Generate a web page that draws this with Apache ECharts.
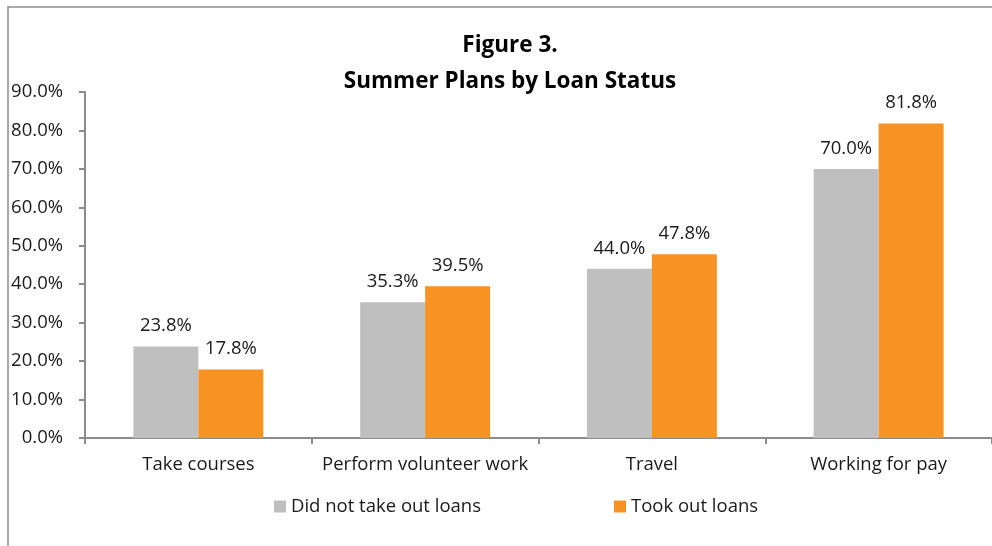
<!DOCTYPE html>
<html>
<head>
<meta charset="utf-8">
<script src="https://cdn.jsdelivr.net/npm/echarts@6/dist/echarts.min.js"></script>
<style>
  html, body { margin: 0; padding: 0; background: #fff; }
  #chart { width: 992px; height: 546px; }
</style>
</head>
<body>
<div id="chart"></div>
<script>
// Summer plans of students, split by whether they took out loans (percent)
const categories = ['Take courses', 'Perform volunteer work', 'Travel', 'Working for pay'];
const noLoans = [23.8, 35.3, 44.0, 70.0];
const tookLoans = [17.8, 39.5, 47.8, 81.8];
const seriesNames = ['Did not take out loans', 'Took out loans'];

const font = '"Open Sans", sans-serif';
const fontSize = 18.5;
const axisGrey = '#8c8c8c';

const chart = echarts.init(document.getElementById('chart'));

const labelStyle = {
  show: true,
  position: 'top',
  distance: 11,
  fontFamily: font,
  fontSize: fontSize,
  color: '#1a1a1a',
  formatter: p => p.value.toFixed(1) + '%'
};

chart.setOption({
  animation: false,
  backgroundColor: '#fff',
  title: {
    text: 'Figure 3.\nSummer Plans by Loan Status',
    left: 505,
    top: 23,
    textAlign: 'center',
    textStyle: {
      fontFamily: font,
      fontSize: 22.5,
      fontWeight: 'bold',
      color: '#000',
      lineHeight: 36
    }
  },
  graphic: [{
    type: 'rect',
    shape: { x: 8, y: 7, width: 1000, height: 560 },
    style: { fill: null, stroke: axisGrey, lineWidth: 1.5 },
    silent: true
  }],
  legend: {
    top: 497,
    left: 274,
    padding: 0,
    itemWidth: 12,
    itemHeight: 12,
    itemGap: 133,
    icon: 'rect',
    textStyle: { fontFamily: font, fontSize: fontSize, color: '#1a1a1a' },
    data: seriesNames
  },
  grid: {
    left: 85,
    right: -1,
    top: 92,
    bottom: 108,
    containLabel: false
  },
  xAxis: {
    type: 'category',
    data: categories,
    axisLine: { lineStyle: { color: axisGrey, width: 2 } },
    axisTick: { show: true, interval: 0, length: 6, alignWithLabel: false, lineStyle: { color: axisGrey, width: 2 } },
    axisLabel: { interval: 0, margin: 17, fontFamily: font, fontSize: fontSize, color: '#1a1a1a' }
  },
  yAxis: {
    type: 'value',
    min: 0,
    max: 90,
    interval: 10,
    splitLine: { show: false },
    axisLine: { show: true, lineStyle: { color: axisGrey, width: 2 } },
    axisTick: { show: true, length: 6, lineStyle: { color: axisGrey, width: 2 } },
    axisLabel: {
      margin: 22,
      fontFamily: font,
      fontSize: fontSize,
      color: '#1a1a1a',
      formatter: v => v.toFixed(1) + '%'
    }
  },
  series: [
    {
      name: seriesNames[0],
      type: 'bar',
      data: noLoans,
      barGap: '0%',
      barCategoryGap: '42.7%',
      itemStyle: { color: '#bfbfbf' },
      label: labelStyle
    },
    {
      name: seriesNames[1],
      type: 'bar',
      data: tookLoans,
      itemStyle: { color: '#f79322' },
      label: labelStyle
    }
  ]
});
</script>
</body>
</html>
